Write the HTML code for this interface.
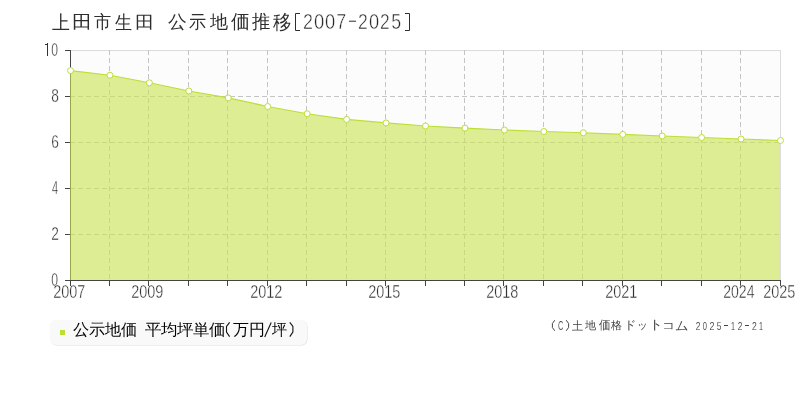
<!DOCTYPE html>
<html><head><meta charset="utf-8"><style>
html,body{margin:0;padding:0;background:#fff;width:800px;height:400px;overflow:hidden}
svg{display:block;font-family:"Liberation Sans", sans-serif}
</style></head><body>
<svg width="800" height="400" viewBox="0 0 800 400">
<defs><filter id="bl" x="-5%" y="-30%" width="110%" height="160%"><feGaussianBlur stdDeviation="0.6"/></filter><filter id="sh" x="-10%" y="-40%" width="120%" height="180%"><feDropShadow dx="1" dy="1.5" stdDeviation="1" flood-color="#000" flood-opacity="0.18"/></filter></defs>
<rect x="0" y="0" width="800" height="400" fill="#fff"/>
<rect x="70" y="50" width="711" height="230" fill="#fcfcfc"/>
<line x1="70" y1="50.5" x2="781" y2="50.5" stroke="#dcdcdc" stroke-width="1"/>
<g stroke="#c4c4c4" stroke-width="1" stroke-dasharray="5,3"><line x1="109.5" y1="50" x2="109.5" y2="280" /><line x1="148.5" y1="50" x2="148.5" y2="280" /><line x1="188.5" y1="50" x2="188.5" y2="280" /><line x1="227.5" y1="50" x2="227.5" y2="280" /><line x1="267.5" y1="50" x2="267.5" y2="280" /><line x1="306.5" y1="50" x2="306.5" y2="280" /><line x1="346.5" y1="50" x2="346.5" y2="280" /><line x1="385.5" y1="50" x2="385.5" y2="280" /><line x1="425.5" y1="50" x2="425.5" y2="280" /><line x1="464.5" y1="50" x2="464.5" y2="280" /><line x1="503.5" y1="50" x2="503.5" y2="280" /><line x1="543.5" y1="50" x2="543.5" y2="280" /><line x1="582.5" y1="50" x2="582.5" y2="280" /><line x1="622.5" y1="50" x2="622.5" y2="280" /><line x1="661.5" y1="50" x2="661.5" y2="280" /><line x1="701.5" y1="50" x2="701.5" y2="280" /><line x1="740.5" y1="50" x2="740.5" y2="280" /><line x1="70" y1="234.5" x2="780" y2="234.5" /><line x1="70" y1="188.5" x2="780" y2="188.5" /><line x1="70" y1="142.5" x2="780" y2="142.5" /><line x1="70" y1="96.5" x2="780" y2="96.5" /></g>
<g stroke="#444" stroke-width="1"><line x1="70.5" y1="50" x2="70.5" y2="280"/><line x1="65" y1="280.5" x2="70" y2="280.5" /><line x1="65" y1="234.5" x2="70" y2="234.5" /><line x1="65" y1="188.5" x2="70" y2="188.5" /><line x1="65" y1="142.5" x2="70" y2="142.5" /><line x1="65" y1="96.5" x2="70" y2="96.5" /><line x1="65" y1="50.5" x2="70" y2="50.5" /></g>
<path d="M70.00,280 L70.00,70.60 L70.50,70.60 L109.94,75.25 L149.39,82.75 L188.83,91.00 L228.28,97.90 L267.72,106.50 L307.17,113.75 L346.61,119.40 L386.06,122.90 L425.50,126.00 L464.94,128.10 L504.39,130.00 L543.83,131.50 L583.28,132.75 L622.72,134.40 L662.17,136.00 L701.61,137.50 L741.05,139.00 L780.50,140.50 L780.50,280 Z" fill="rgb(200,227,84)" fill-opacity="0.62" stroke="none"/>
<line x1="780.5" y1="50" x2="780.5" y2="280" stroke="#dcdcdc" stroke-width="1"/>
<g stroke="#444" stroke-width="1"><line x1="65" y1="280.5" x2="781" y2="280.5"/><line x1="70.5" y1="280" x2="70.5" y2="286" /><line x1="109.5" y1="280" x2="109.5" y2="286" /><line x1="148.5" y1="280" x2="148.5" y2="286" /><line x1="188.5" y1="280" x2="188.5" y2="286" /><line x1="227.5" y1="280" x2="227.5" y2="286" /><line x1="267.5" y1="280" x2="267.5" y2="286" /><line x1="306.5" y1="280" x2="306.5" y2="286" /><line x1="346.5" y1="280" x2="346.5" y2="286" /><line x1="385.5" y1="280" x2="385.5" y2="286" /><line x1="425.5" y1="280" x2="425.5" y2="286" /><line x1="464.5" y1="280" x2="464.5" y2="286" /><line x1="503.5" y1="280" x2="503.5" y2="286" /><line x1="543.5" y1="280" x2="543.5" y2="286" /><line x1="582.5" y1="280" x2="582.5" y2="286" /><line x1="622.5" y1="280" x2="622.5" y2="286" /><line x1="661.5" y1="280" x2="661.5" y2="286" /><line x1="701.5" y1="280" x2="701.5" y2="286" /><line x1="740.5" y1="280" x2="740.5" y2="286" /><line x1="780.5" y1="280" x2="780.5" y2="286" /></g>
<polyline points="70.50,70.60 109.94,75.25 149.39,82.75 188.83,91.00 228.28,97.90 267.72,106.50 307.17,113.75 346.61,119.40 386.06,122.90 425.50,126.00 464.94,128.10 504.39,130.00 543.83,131.50 583.28,132.75 622.72,134.40 662.17,136.00 701.61,137.50 741.05,139.00 780.50,140.50" fill="none" stroke="#bcdf38" stroke-width="1.25"/>
<g fill="#fff" stroke="#bcdf38" stroke-width="1"><circle cx="70.50" cy="70.60" r="3" /><circle cx="109.94" cy="75.25" r="3" /><circle cx="149.39" cy="82.75" r="3" /><circle cx="188.83" cy="91.00" r="3" /><circle cx="228.28" cy="97.90" r="3" /><circle cx="267.72" cy="106.50" r="3" /><circle cx="307.17" cy="113.75" r="3" /><circle cx="346.61" cy="119.40" r="3" /><circle cx="386.06" cy="122.90" r="3" /><circle cx="425.50" cy="126.00" r="3" /><circle cx="464.94" cy="128.10" r="3" /><circle cx="504.39" cy="130.00" r="3" /><circle cx="543.83" cy="131.50" r="3" /><circle cx="583.28" cy="132.75" r="3" /><circle cx="622.72" cy="134.40" r="3" /><circle cx="662.17" cy="136.00" r="3" /><circle cx="701.61" cy="137.50" r="3" /><circle cx="741.05" cy="139.00" r="3" /><circle cx="780.50" cy="140.50" r="3" /></g>
<rect x="50.5" y="320.5" width="257" height="25" rx="6" fill="#dedede" filter="url(#bl)"/><rect x="50" y="320" width="257" height="25" rx="6" fill="#f9f9f9"/>
<rect x="60" y="330" width="5" height="5" fill="#bcdf38"/>
<g style="filter:grayscale(1)"><text transform="translate(52.10,29.14) scale(0.900,0.956)" font-size="20" fill="#2e2e2e">上</text><text transform="translate(71.97,28.29) scale(1.013,0.903)" font-size="20" fill="#2e2e2e">田</text><text transform="translate(93.90,28.23) scale(0.855,0.890)" font-size="20" fill="#2e2e2e">市</text><text transform="translate(114.90,29.29) scale(0.855,0.953)" font-size="20" fill="#2e2e2e">生</text><text transform="translate(135.21,27.96) scale(0.993,0.872)" font-size="20" fill="#2e2e2e">田</text><text transform="translate(167.90,28.44) scale(0.958,0.921)" font-size="20" fill="#2e2e2e">公</text><text transform="translate(188.90,28.22) scale(0.850,0.892)" font-size="20" fill="#2e2e2e">示</text><text transform="translate(209.90,28.48) scale(0.910,0.905)" font-size="20" fill="#2e2e2e">地</text><text transform="translate(231.10,28.11) scale(0.921,0.929)" font-size="20" fill="#2e2e2e">価</text><text transform="translate(251.70,28.16) scale(0.915,0.947)" font-size="20" fill="#2e2e2e">推</text><text transform="translate(272.70,29.00) scale(0.921,1.000)" font-size="20" fill="#2e2e2e">移</text><text transform="translate(302.96,28.90) scale(0.894,1.064)" font-size="20" fill="#262626" stroke="#fff" stroke-width="0.45">2</text><text transform="translate(313.88,28.90) scale(0.922,1.064)" font-size="20" fill="#262626" stroke="#fff" stroke-width="0.45">0</text><text transform="translate(324.98,28.90) scale(0.917,1.064)" font-size="20" fill="#262626" stroke="#fff" stroke-width="0.45">0</text><text transform="translate(336.21,28.90) scale(0.889,1.064)" font-size="20" fill="#262626" stroke="#fff" stroke-width="0.45">7</text><text transform="translate(358.12,28.90) scale(0.878,1.064)" font-size="20" fill="#262626" stroke="#fff" stroke-width="0.45">2</text><text transform="translate(368.99,28.90) scale(0.911,1.064)" font-size="20" fill="#262626" stroke="#fff" stroke-width="0.45">0</text><text transform="translate(380.03,28.90) scale(0.867,1.064)" font-size="20" fill="#262626" stroke="#fff" stroke-width="0.45">2</text><text transform="translate(391.21,28.90) scale(0.889,1.064)" font-size="20" fill="#262626" stroke="#fff" stroke-width="0.45">5</text><text transform="translate(51.32,286.00) scale(0.678,1.004)" font-size="18" fill="#262626" stroke="#fff" stroke-width="0.4">0</text><text transform="translate(51.24,240.00) scale(0.763,1.004)" font-size="18" fill="#262626" stroke="#fff" stroke-width="0.4">2</text><text transform="translate(52.00,194.00) scale(0.610,1.004)" font-size="18" fill="#262626" stroke="#fff" stroke-width="0.4">4</text><text transform="translate(51.24,148.00) scale(0.763,1.004)" font-size="18" fill="#262626" stroke="#fff" stroke-width="0.4">6</text><text transform="translate(51.24,102.00) scale(0.763,1.004)" font-size="18" fill="#262626" stroke="#fff" stroke-width="0.4">8</text><text transform="translate(51.32,56.00) scale(0.678,1.004)" font-size="18" fill="#262626" stroke="#fff" stroke-width="0.4">0</text><text transform="translate(53.15,297.90) scale(0.803,1.008)" font-size="18" fill="#262626" stroke="#fff" stroke-width="0.4">2007</text><text transform="translate(131.15,297.90) scale(0.803,1.008)" font-size="18" fill="#262626" stroke="#fff" stroke-width="0.4">2009</text><text transform="translate(250.15,297.90) scale(0.803,1.008)" font-size="18" fill="#262626" stroke="#fff" stroke-width="0.4">2012</text><text transform="translate(368.15,297.90) scale(0.803,1.008)" font-size="18" fill="#262626" stroke="#fff" stroke-width="0.4">2015</text><text transform="translate(486.15,297.90) scale(0.803,1.008)" font-size="18" fill="#262626" stroke="#fff" stroke-width="0.4">2018</text><text transform="translate(605.15,297.90) scale(0.803,1.008)" font-size="18" fill="#262626" stroke="#fff" stroke-width="0.4">2021</text><text transform="translate(723.17,297.90) scale(0.782,1.008)" font-size="18" fill="#262626" stroke="#fff" stroke-width="0.4">2024</text><text transform="translate(763.15,297.90) scale(0.803,1.008)" font-size="18" fill="#262626" stroke="#fff" stroke-width="0.4">2025</text><text transform="translate(72.50,335.15) scale(0.987,0.973)" font-size="16" fill="#000">公示地価</text><text transform="translate(144.50,335.15) scale(1.003,0.973)" font-size="16" fill="#000">平均坪単価</text><text transform="translate(232.60,335.15) scale(0.971,0.973)" font-size="16" fill="#000">万円</text><text transform="translate(272.40,335.15) scale(0.913,0.973)" font-size="16" fill="#000">坪</text><text transform="translate(557.90,329.90) scale(0.578,1.000)" font-size="13" fill="#3a3a3a" stroke="#fff" stroke-width="0.2">C</text><text transform="translate(572.00,330.08) scale(0.846,0.917)" font-size="13" fill="#454545">土</text><text transform="translate(584.80,329.31) scale(0.862,0.846)" font-size="13" fill="#454545">地</text><text transform="translate(598.60,329.17) scale(0.883,0.917)" font-size="13" fill="#454545">価</text><text transform="translate(611.00,329.31) scale(0.846,0.846)" font-size="13" fill="#454545">格</text><text transform="translate(624.14,329.10) scale(0.914,0.900)" font-size="13" fill="#454545">ド</text><text transform="translate(637.26,329.20) scale(0.822,0.850)" font-size="13" fill="#454545">ッ</text><text transform="translate(648.60,328.94) scale(1.040,0.982)" font-size="13" fill="#454545">ト</text><text transform="translate(661.93,329.20) scale(1.033,0.800)" font-size="13" fill="#454545">コ</text><text transform="translate(674.86,329.90) scale(1.036,1.000)" font-size="13" fill="#454545">ム</text><text transform="translate(695.80,329.50) scale(0.700,0.944)" font-size="12" fill="#3a3a3a" stroke="#fff" stroke-width="0.1">2</text><text transform="translate(702.80,329.50) scale(0.629,0.944)" font-size="12" fill="#3a3a3a" stroke="#fff" stroke-width="0.1">0</text><text transform="translate(709.50,329.50) scale(0.750,0.944)" font-size="12" fill="#3a3a3a" stroke="#fff" stroke-width="0.1">2</text><text transform="translate(716.80,329.50) scale(0.700,0.944)" font-size="12" fill="#3a3a3a" stroke="#fff" stroke-width="0.1">5</text><text transform="translate(730.90,329.50) scale(0.600,0.944)" font-size="12" fill="#3a3a3a" stroke="#fff" stroke-width="0.1">1</text><text transform="translate(737.80,329.50) scale(0.700,0.944)" font-size="12" fill="#3a3a3a" stroke="#fff" stroke-width="0.1">2</text><text transform="translate(752.00,329.50) scale(0.717,0.944)" font-size="12" fill="#3a3a3a" stroke="#fff" stroke-width="0.1">2</text><text transform="translate(758.90,329.50) scale(0.600,0.944)" font-size="12" fill="#3a3a3a" stroke="#fff" stroke-width="0.1">1</text><path d="M47.5,43 V56 M45,44.5 H47.5" fill="none" stroke="#333" stroke-width="1"/><path d="M300,13.5 H295.5 V30.5 H300" fill="none" stroke="#2e2e2e" stroke-width="1"/><path d="M405,13.5 H409.5 V30.5 H405" fill="none" stroke="#2e2e2e" stroke-width="1"/><path d="M229.6,322.3 L226.5,326.5 L226.5,332 L229.6,336.6" fill="none" stroke="#111" stroke-width="1.1"/><path d="M289.8,322.3 L292.9,326.5 L292.9,332 L289.8,336.6" fill="none" stroke="#111" stroke-width="1.1"/><path d="M271.2,322.6 L264.7,337" fill="none" stroke="#111" stroke-width="1.1"/><path d="M554.8,320.2 L552.4,323.5 L552.4,327.5 L554.8,330.8" fill="none" stroke="#454545" stroke-width="1"/><path d="M566.2,320.2 L568.6,323.5 L568.6,327.5 L566.2,330.8" fill="none" stroke="#454545" stroke-width="1"/><rect x="349" y="20.7" width="7" height="1" fill="#2e2e2e"/><rect x="724" y="325" width="4" height="1" fill="#454545"/><rect x="745" y="325" width="4" height="1" fill="#454545"/></g>
</svg>
</body></html>
